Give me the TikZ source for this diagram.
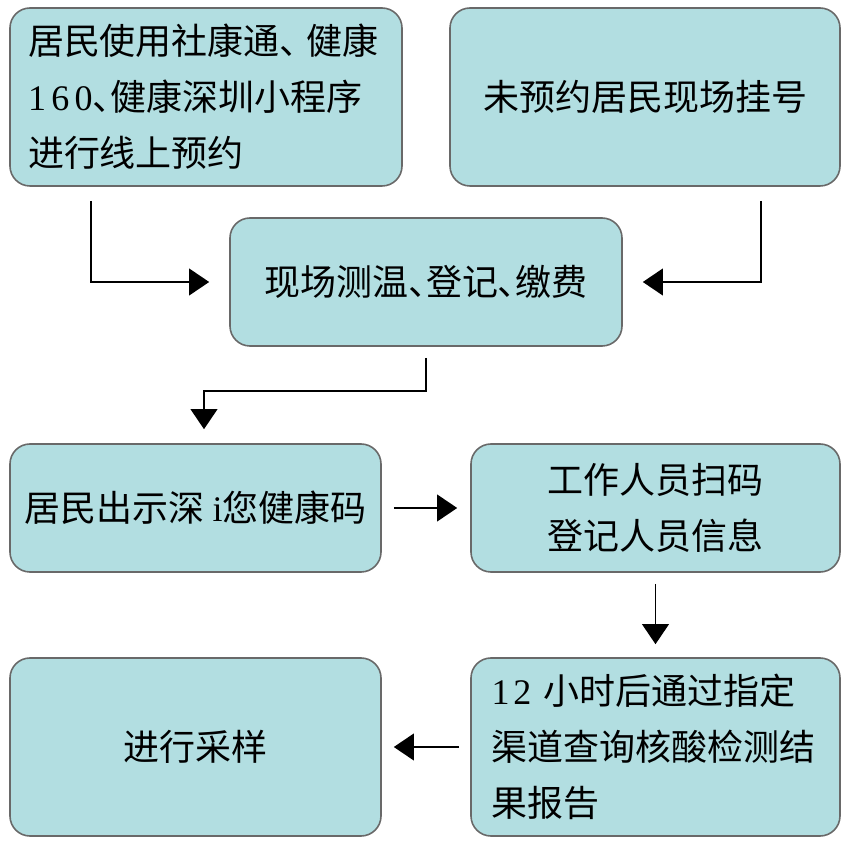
\documentclass[tikz,border=0pt]{standalone}
\usepackage{fontspec}
\setmainfont{Liberation Serif}
\newfontfamily\cjk{Noto Sans CJK SC}
\usetikzlibrary{arrows.meta,calc}
\definecolor{boxfill}{RGB}{178,222,225}
\definecolor{boxline}{RGB}{105,105,105}
\newcommand{\dun}{\makebox[0.5em][l]{、}}
\begin{document}
\begin{tikzpicture}[x=0.75pt,y=-0.75pt,
  box/.style={draw=boxline, line width=1.2pt, fill=boxfill, rounded corners=15pt,
    inner sep=0pt, font=\cjk\fontsize{27}{42}\selectfont, text=black},
  arr/.style={line width=1.1pt, -{Triangle[length=15pt,width=20pt]}}]
\useasboundingbox (0,0) rectangle (851,848);

\node[box, minimum width=294pt, minimum height=133.5pt, text width=267pt, align=left]
  (A) at (206,97) {居民使用社康通\makebox[0.75em][l]{、}健康\\{\rmfamily 1\hspace{4pt}6\hspace{4pt}0}\dun 健康深圳小程序\\进行线上预约};
\node[box, minimum width=292.5pt, minimum height=133.5pt]
  (B) at (645,97) {未预约居民现场挂号};
\node[box, minimum width=294pt, minimum height=96pt]
  (C) at (426,282) {现场测温\dun 登记\dun 缴费};
\node[box, minimum width=278.25pt, minimum height=96pt]
  (D) at (195.5,508) {居民出示深 {\rmfamily i}您健康码};
\node[box, minimum width=276.75pt, minimum height=96pt, align=center]
  (E) at (655.5,508) {工作人员扫码\\登记人员信息};
\node[box, minimum width=276.75pt, minimum height=133.5pt, text width=246pt, align=left]
  (F) at (655.5,747) {{\rmfamily 1\hspace{3pt}2} 小时后通过指定\\渠道查询核酸检测结\\果报告};
\node[box, minimum width=278.25pt, minimum height=133.5pt]
  (G) at (195.5,747) {进行采样};

\coordinate (a1) at ($(A.south west)+(82,14)$);
\coordinate (b1) at ($(B.south east)+(-80,14)$);
\draw[arr] (a1) |- ($(C.west)+(-20,0)$);
\draw[arr] (b1) |- ($(C.east)+(20,0)$);
\draw[arr] ($(C.south)+(0,11)$) -- ++(0,33) -| ($(D.north)+(8.5,-14)$);
\draw[arr] ($(D.east)+(12,0)$) -- ($(E.west)+(-13,0)$);
\draw[arr] ($(E.south)+(0,11)$) -- ($(F.north)+(0,-13)$);
\draw[arr] ($(F.west)+(-11,0)$) -- ($(G.east)+(12,0)$);
\end{tikzpicture}
\end{document}
